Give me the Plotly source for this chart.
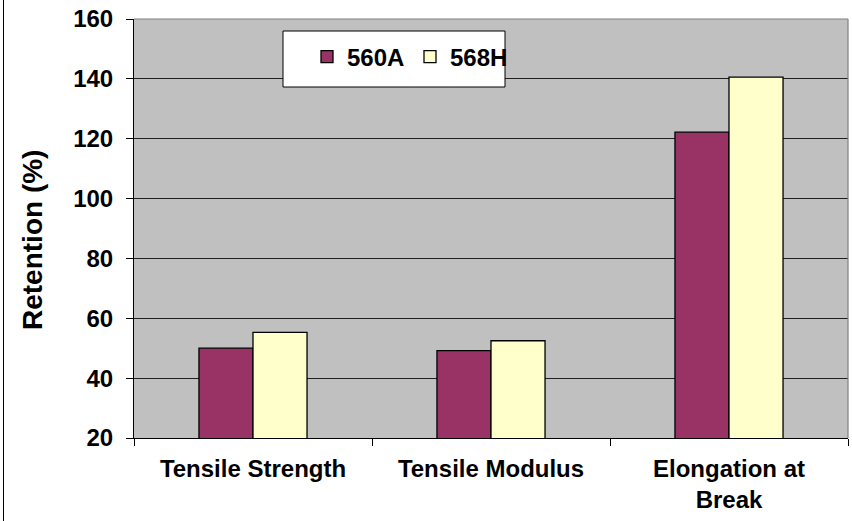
import plotly.graph_objects as go

# Retention data
categories = ["Tensile Strength", "Tensile Modulus", "Elongation at<br>Break"]
series_names = ["560A", "568H"]
values_560a = [50, 49.2, 122.2]
values_568h = [55.3, 52.5, 140.6]
y_ticks = [20, 40, 60, 80, 100, 120, 140, 160]

colors = {"560A": "#993366", "568H": "#FFFFCC"}

W, H = 852, 521
L, R, T, B = 134, 4, 19, 83
PW, PH = W - L - R, H - T - B


def px_x(p):
    return (p - L) / PW


def px_y(p):
    return 1 - (p - T) / PH


FONT = "Arial, Liberation Sans, sans-serif"
FS = 24

fig = go.Figure()
for name, vals in zip(series_names, [values_560a, values_568h]):
    fig.add_trace(go.Bar(
        x=categories, y=vals, name=name,
        marker=dict(color=colors[name], line=dict(color="black", width=1.3)),
    ))

fig.update_layout(
    width=W, height=H,
    margin=dict(l=L, r=R, t=T, b=B),
    paper_bgcolor="white",
    plot_bgcolor="#C0C0C0",
    barmode="group",
    bargap=0.546,
    bargroupgap=0,
    font=dict(family=FONT, size=FS, color="black", weight="bold"),
    showlegend=True,
    legend=dict(
        orientation="h",
        x=px_x(307), y=px_y(57), xanchor="left", yanchor="middle",
        bgcolor="rgba(0,0,0,0)", borderwidth=0,
        entrywidth=58, entrywidthmode="pixels",
        itemwidth=30,
        font=dict(family=FONT, size=FS, color="black", weight="bold"),
        traceorder="normal",
    ),
    xaxis=dict(
        type="category",
        tickson="boundaries",
        ticks="outside", ticklen=7, tickcolor="black", tickwidth=1,
        showline=True, linecolor="black", linewidth=1,
        showgrid=False,
        ticklabelstandoff=9,
        tickfont=dict(family=FONT, size=FS, color="black", weight="bold"),
    ),
    yaxis=dict(
        range=[20, 160],
        tickvals=y_ticks,
        ticks="outside", ticklen=7, tickcolor="black", tickwidth=1,
        showline=True, linecolor="black", linewidth=1,
        showgrid=True, gridcolor="#202020", gridwidth=1,
        zeroline=False,
        ticklabelstandoff=8,
        tickfont=dict(family=FONT, size=FS, color="black", weight="bold"),
    ),
)

# Plot-area frame (top and right edges in gray)
fig.add_shape(type="line", xref="paper", yref="paper", x0=0, x1=1, y0=1, y1=1,
              line=dict(color="#808080", width=1.2), layer="above")
fig.add_shape(type="line", xref="paper", yref="paper", x0=1, x1=1, y0=0, y1=1,
              line=dict(color="#808080", width=1.2), layer="above")

# Legend frame
fig.add_shape(type="rect", xref="paper", yref="paper",
              x0=px_x(283), x1=px_x(505), y0=px_y(87), y1=px_y(31),
              fillcolor="white", line=dict(color="black", width=1), layer="above")

# Chart-area border on the left
fig.add_shape(type="line", xref="paper", yref="paper",
              x0=px_x(3.5), x1=px_x(3.5), y0=px_y(H + 5), y1=px_y(-5),
              line=dict(color="black", width=1), layer="above")

# Y-axis title
fig.add_annotation(
    text="Retention (%)", textangle=-90, showarrow=False,
    xref="paper", yref="paper", x=px_x(33), y=px_y(240),
    xanchor="center", yanchor="middle",
    font=dict(family=FONT, size=28, color="black", weight="bold"),
)

fig.write_html("out.html")
